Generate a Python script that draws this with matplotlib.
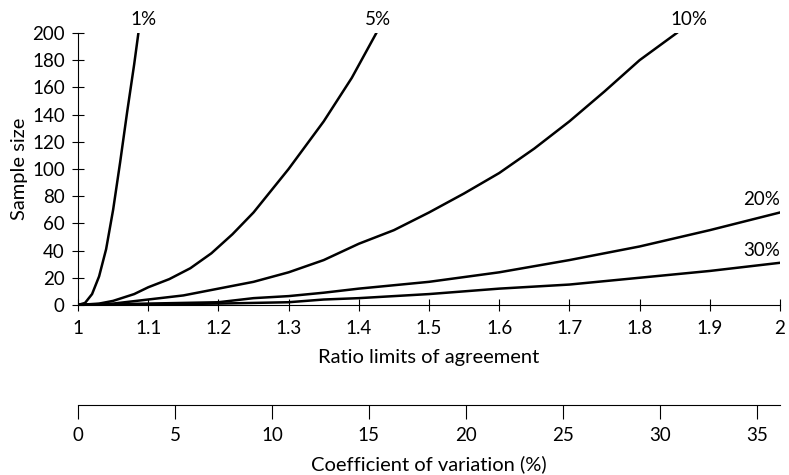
import matplotlib.pyplot as plt

plt.rcParams['font.family'] = ['Lato', 'DejaVu Sans']

# ratio limits of agreement (x) vs sample size (y), one series per curve
x_1 = [1.0, 1.01, 1.02, 1.03, 1.04, 1.05, 1.06, 1.07, 1.08, 1.086]
y_1 = [0, 1.5, 8, 21, 41, 70, 105, 142, 177, 200]

x_5 = [1.0, 1.03, 1.05, 1.08, 1.1, 1.13, 1.16, 1.19, 1.22, 1.25, 1.3,
       1.35, 1.39, 1.425]
y_5 = [0, 1, 3, 8, 13, 19, 27, 38, 52, 68, 100, 135, 167, 200]

x_10 = [1.0, 1.05, 1.1, 1.15, 1.2, 1.25, 1.3, 1.35, 1.4, 1.45, 1.5, 1.55,
        1.6, 1.65, 1.7, 1.75, 1.8, 1.853]
y_10 = [0, 1, 4, 7, 12, 17, 24, 33, 45, 55, 68, 82, 97, 115, 135, 157,
        180, 200]

x_20 = [1.0, 1.1, 1.2, 1.25, 1.3, 1.35, 1.4, 1.5, 1.6, 1.7, 1.8, 1.9, 2.0]
y_20 = [0, 1, 2, 5, 6.5, 9, 12, 17, 24, 33, 43, 55, 68]

x_30 = [1.0, 1.1, 1.2, 1.3, 1.35, 1.4, 1.5, 1.6, 1.7, 1.8, 1.9, 2.0]
y_30 = [0, 0.5, 1, 2, 4, 5, 8, 12, 15, 20, 25, 31]

curves = [(x_1, y_1, '1%'), (x_5, y_5, '5%'), (x_10, y_10, '10%'),
          (x_20, y_20, '20%'), (x_30, y_30, '30%')]

x_ticks = [1, 1.1, 1.2, 1.3, 1.4, 1.5, 1.6, 1.7, 1.8, 1.9, 2]
x_ticklabels = ['1', '1.1', '1.2', '1.3', '1.4', '1.5', '1.6', '1.7', '1.8', '1.9', '2']
y_ticks = list(range(0, 201, 20))
cv_ticks = [0, 5, 10, 15, 20, 25, 30, 35]
cv_max = 36.2

fig = plt.figure(figsize=(7.89, 4.75), dpi=100)
ax = fig.add_axes([0.0989, 0.358, 0.8897, 0.5726])

for xs, ys, lab in curves:
    ax.plot(xs, ys, color='black', lw=1.8, solid_joinstyle='round')

# curve labels
lab_fs = 13.5
ax.text(1.093, 204, '1%', ha='center', va='bottom', fontsize=lab_fs)
ax.text(1.427, 204, '5%', ha='center', va='bottom', fontsize=lab_fs)
ax.text(1.87, 204, '10%', ha='center', va='bottom', fontsize=lab_fs)
ax.text(2.0, 71, '20%', ha='right', va='bottom', fontsize=lab_fs)
ax.text(2.0, 34, '30%', ha='right', va='bottom', fontsize=lab_fs)

ax.set_xlim(1, 2)
ax.set_ylim(0, 200)
ax.set_xticks(x_ticks)
ax.set_xticklabels(x_ticklabels)
ax.set_yticks(y_ticks)
ax.spines['top'].set_visible(False)
ax.spines['right'].set_visible(False)
for s in ['left', 'bottom']:
    ax.spines[s].set_linewidth(0.8)
ax.tick_params(axis='x', direction='inout', length=9, width=0.8, labelsize=13.5, pad=6)
ax.tick_params(axis='y', direction='inout', length=9, width=0.8, labelsize=13.5, pad=5)
ax.set_xlabel('Ratio limits of agreement', fontsize=14.5, labelpad=9)
ax.set_ylabel('Sample size', fontsize=14.5, labelpad=3)

# second scale: coefficient of variation
ax2 = fig.add_axes([0.0989, 0.147, 0.8897, 0.0001])
ax2.set_xlim(0, cv_max)
ax2.set_xticks(cv_ticks)
ax2.set_yticks([])
for s in ['left', 'right', 'top']:
    ax2.spines[s].set_visible(False)
ax2.spines['bottom'].set_linewidth(0.8)
ax2.tick_params(axis='x', direction='out', length=10, width=0.8, labelsize=13.5, pad=6)
ax2.set_xlabel('Coefficient of variation (%)', fontsize=14.5, labelpad=8)

fig.savefig('out.png', dpi=100)
